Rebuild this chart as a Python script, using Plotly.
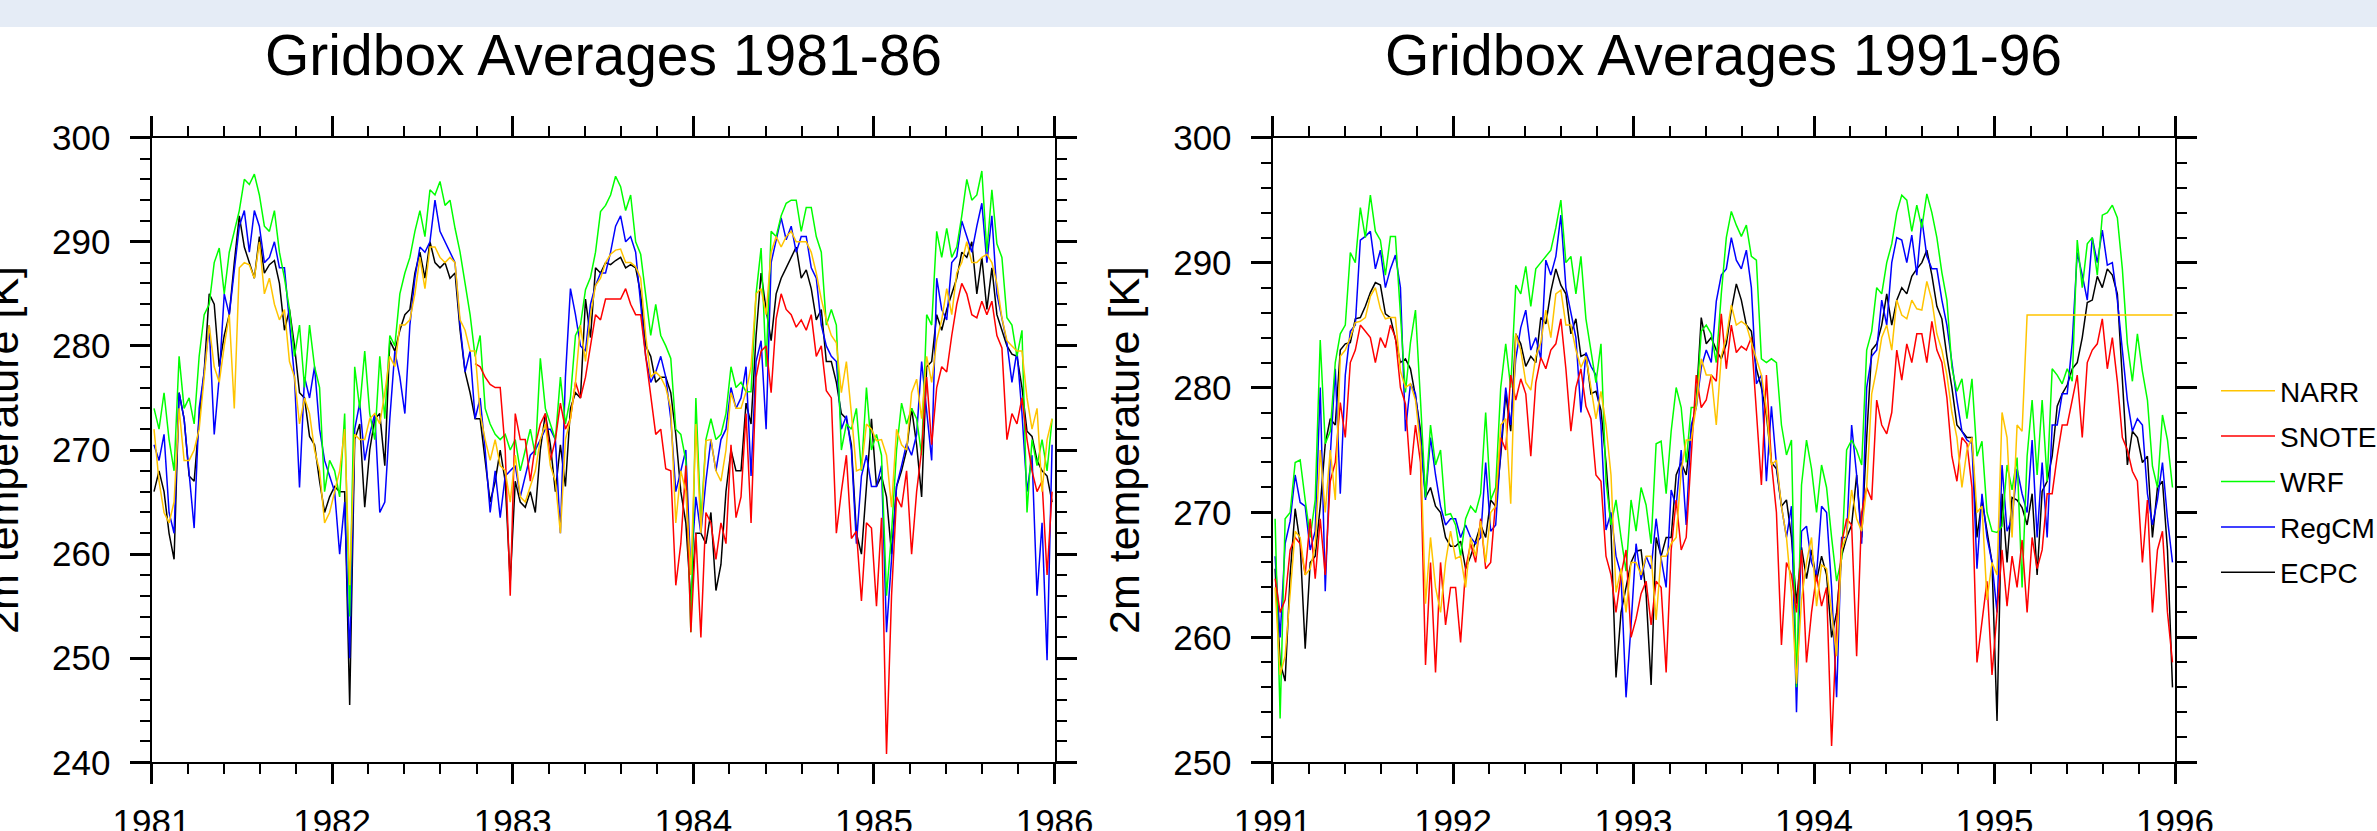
import plotly.graph_objects as go

FONT = "Liberation Sans, Arial, Helvetica, sans-serif"
W, H = 2377, 831

# ---------------- text ----------------
titles = ["Gridbox Averages 1981-86", "Gridbox Averages 1991-96"]
y_title = "2m temperature [K]"
series_order = ["ECPC", "RegCM", "WRF", "SNOTEL", "NARR"]   # drawing order, NARR on top
legend_rank = {"NARR": 1, "SNOTEL": 2, "WRF": 3, "RegCM": 4, "ECPC": 5}
series_colors = {"NARR": "#FFC400", "SNOTEL": "#FF0000", "WRF": "#00FF00",
                 "RegCM": "#0000FF", "ECPC": "#000000"}

# ---------------- data: 10-day values (36 per year), K ----------------
narr_8186 = [
    272, 267, 264, 263, 265, 274, 269, 269, 270, 272, 277, 282, 278, 276.5, 280, 283, 274, 287.5, 288, 287.8, 286.5, 290, 285, 286.5, 284, 282.5, 283.5, 278.5, 277, 272.5, 275, 273.5, 270, 268, 263, 264,
    266, 268, 272, 257, 271.5, 271, 271, 273, 273.5, 272.5, 275.5, 279, 278, 282, 282, 282.5, 285, 288.5, 285.5, 289.5, 289.5, 288.5, 288, 288.5, 288, 282.5, 281.5, 279.5, 279.5, 273.5, 271, 269, 271, 268.5, 268, 265,
    269.5, 265.5, 265, 266.5, 268, 271, 272.5, 268.5, 267, 262, 271, 273, 276.5, 282, 278.5, 283, 285.8, 286.5, 288, 288.8, 289.2, 289.3, 288, 288, 287.6, 286.5, 281, 277, 277.5, 277, 276, 274, 263, 268, 266, 258,
    272.5, 262, 270.9, 271, 268, 267, 270, 275.5, 274, 274, 275.6, 278, 285, 285.5, 283, 289, 290.5, 289.5, 290.5, 291, 290, 290, 290, 289, 287, 284.5, 282.5, 281, 280.3, 275.5, 278.5, 273.5, 268, 268.2, 272.5, 272,
    270.9, 271, 269.5, 264.5, 272, 270.5, 270, 275.5, 276.8, 273, 279, 276.5, 280.5, 282.5, 285.5, 283, 287, 288, 290, 288, 288, 288.5, 288.8, 288, 286, 282.7, 280.5, 280, 279.5, 279.5, 275, 272, 274, 266, 271, 273,
]
snotel_8186 = [
    None, None, None, None, None, None, None, None, None, None, None, None, None, None, None, None, None, None,
    None, None, None, None, None, None, None, None, None, None, None, None, None, None, None, None, None, None,
    None, None, None, None, None, None, None, None, None, None, None, None, None, None, None, None, None, None,
    None, None, None, None, None, None, None, None, None, None, 278.3, 278, 277, 276.3, 276, 276, 270, 256,
    273.5, 271, 271, 267, 270.5, 272.5, 273.5, 269, 271, 274.5, 272, 273, 276.5, 275, 277, 280, 283, 282.5, 284.5, 284.5, 284.5, 284.5, 285.5, 284, 283, 283, 279, 275, 271.5, 272, 268.2, 268, 257, 261, 268.5, 252.5,
    262, 252, 264, 263, 259.5, 263, 261, 270.5, 263.5, 265.5, 273.5, 263, 277, 279.5, 280, 275.5, 282.6, 285, 283.5, 283, 281.8, 282.5, 281.5, 283, 279, 280, 275.7, 275, 262, 266, 269.5, 261.5, 262.2, 255.5, 263, 262.5,
    255, 263.5, 240.8, 256, 265.5, 264.5, 268, 260, 266, 270, 277, 270.5, 276, 278, 277.5, 281, 284, 286, 285, 283, 282.7, 284.3, 283, 284.3, 281, 279.8, 271, 273.5, 272.5, 275, 271, 268, 266, 267, 258, 266,
]
wrf_8186 = [
    274, 272, 275.5, 271, 268, 279, 274, 275, 272.5, 279, 283, 284, 288, 289.4, 285, 289, 291, 293, 296, 295.5, 296.5, 294.5, 291.5, 291, 293, 289, 286.5, 283.5, 279, 282, 276, 282, 278, 276, 266, 269,
    268, 265.5, 273.5, 254, 278, 274, 279.5, 273.5, 271, 279, 273, 281, 280, 285, 287, 288.5, 291, 293, 290.5, 295, 294.5, 295.8, 293.5, 294, 291.3, 289, 286, 283, 279, 281, 274, 272.5, 271.5, 271, 271.5, 270,
    271, 268, 270, 272, 269.5, 278.8, 274, 272.5, 271, 277, 272.5, 275, 281, 282, 285.4, 286.6, 289, 292.9, 293.5, 294.5, 296.3, 295.3, 293, 294.5, 290, 288.8, 285, 281, 284, 281, 280, 278.8, 272, 271.5, 269, 252.5,
    275, 263, 271, 273, 271, 271.5, 273.5, 278, 276, 276.5, 275.6, 275.6, 285, 289.4, 278, 291, 290.5, 292.5, 293.7, 294, 294, 291, 293.3, 293.3, 290.5, 289, 282, 283.5, 282, 270, 272.5, 272, 274, 268, 276, 270,
    271.5, 269.5, 256, 262, 270, 274.5, 272.5, 274, 273, 269.5, 283, 282, 291, 288.5, 291.3, 288.5, 289.5, 292.5, 296, 294, 294.5, 296.8, 289, 295, 289.8, 288.5, 282.7, 282, 279, 281.5, 264, 271, 268.5, 271, 268, 273,
]
regcm_8186 = [
    270.5, 269, 271.5, 264, 262, 275.5, 273, 268, 262.5, 274, 277.5, 282, 271.5, 277, 285, 283, 287.5, 291.5, 293, 289, 293, 291.5, 288, 288.5, 290, 287.5, 287.5, 282, 277, 266.4, 277, 275, 278, 272, 269, 267.5,
    266, 260, 265, 250, 272, 274.5, 269, 271.5, 273.5, 264, 265, 273, 279.5, 277, 273.5, 282, 286.5, 289.5, 289, 290, 294, 291, 290, 289, 288, 282, 277.5, 279.5, 273, 275, 270, 264, 268, 263.5, 267.5, 268,
    268.5, 265.5, 267.5, 269.5, 270, 271, 272, 272, 271, 262, 277, 285.5, 283, 280, 279.5, 284, 285.8, 287, 287, 289, 291.5, 292.5, 290, 290.5, 289, 284, 279, 276.5, 277.5, 279, 277, 273, 266, 268, 270, 258,
    265.5, 262, 267, 271, 268, 271, 272, 276, 274, 275, 278, 267.5, 278.5, 280.5, 272, 288, 290, 292.3, 290.2, 291.5, 289, 290.5, 290.5, 287.5, 286.5, 282, 280, 279, 278.5, 272, 273.3, 270, 261, 267.5, 269.5, 266.5,
    266.5, 268.5, 252.5, 259.5, 266.5, 268.5, 270.6, 269.5, 271.5, 278.5, 274, 269, 286.5, 283.5, 282.5, 288, 288.6, 292, 290.5, 289, 291.5, 293.7, 288, 292.5, 285, 282.6, 280.3, 276.5, 279.5, 273.5, 266, 269.5, 256, 263, 249.8, 270.5,
]
ecpc_8186 = [
    266, 268, 266, 262, 259.5, 275.5, 273, 267.5, 267, 273, 277.5, 285, 284, 278, 281, 283, 288, 292.5, 289.5, 288, 286.5, 290.5, 287, 287.8, 288.2, 286, 281.5, 283.5, 280, 275.5, 275, 271.3, 270.5, 267, 264, 265.5,
    266.5, 266, 266, 245.5, 271, 272.5, 264.5, 270, 273, 273.5, 268.5, 280.5, 279.5, 281.5, 283, 283.5, 287, 289, 286.5, 290, 288, 287.5, 288, 286.5, 287, 281.5, 277.5, 275.5, 273, 273, 269, 265, 267, 270, 267, 257.3,
    267, 265, 264.5, 266, 264, 270, 273.5, 270.5, 266, 270.5, 266.5, 274, 275.5, 275, 284.5, 280.8, 287.5, 287, 288, 287.8, 288.2, 288.5, 287.5, 287.8, 287.5, 285, 280, 279, 276.5, 277, 277, 275.5, 271.5, 266, 263, 255.5,
    262, 262, 261, 264, 256.5, 259, 266, 270, 268, 268, 274.5, 272.5, 281, 287, 283.5, 280.5, 285, 286.5, 287.5, 288.5, 289.5, 286.5, 287.3, 285.5, 282.5, 283.5, 278.5, 278.5, 276.5, 273.5, 273, 270.5, 262, 260, 267, 273,
    266.5, 267.5, 265.5, 260, 266.5, 268, 270, 274, 270.5, 265.5, 278, 278.5, 283, 281.5, 283.5, 285, 286.5, 289, 288.5, 290, 285, 288.5, 283.5, 287.5, 283, 281.5, 280, 279.2, 279, 276, 271.8, 271.3, 269, 268, 267.5, 265,
]

narr_9196 = [
    264, 257, 258.5, 263.5, 268.5, 268, 265, 265.5, 267.3, 275, 270, 275, 271, 282.5, 283, 284, 285.2, 285.3, 285.6, 287.3, 288, 286.3, 285.5, 285.6, 285.6, 281.3, 280, 280.3, 279, 275.3, 262.7, 268, 264, 262, 266, 268.5,
    266.3, 266.5, 264, 268, 266.5, 269.3, 266, 270, 270.5, 277, 277.5, 270.7, 284.3, 283, 280.4, 279.8, 282.5, 283.6, 286.2, 284, 287.5, 287.8, 285, 285, 283, 281.6, 282.5, 280, 277.5, 279.7, 277, 273, 263.6, 265.5, 262, 266,
    266, 265, 266.5, 266.5, 261.4, 266.5, 266.5, 267.5, 268, 273.3, 275.8, 275.8, 278.5, 282.3, 281, 281, 277, 282.5, 284, 286.6, 285, 285.3, 285, 283.6, 282.3, 281, 278.3, 273.8, 274.2, 270.5, 268, 263.5, 256.3, 263, 266, 268,
    262.5, 265.8, 265.5, 262, 258.5, 267, 268.2, 271.8, 269.5, 268.5, 272, 279.5, 281.5, 284, 285, 283, 287, 285.8, 285.5, 287, 286.3, 286.2, 288.5, 287, 284.3, 283, 281, 278, 276, 272, 275, 276, 270, 270.5, 263, 266,
    265, 278, 276, 268, 277, 276.5, 285.8, 285.8, 285.8, 285.8, 285.8, 285.8, 285.8, 285.8, 285.8, 285.8, 285.8, 285.8, 285.8, 285.8, 285.8, 285.8, 285.8, 285.8, 285.8, 285.8, 285.8, 285.8, 285.8, 285.8, 285.8, 285.8, 285.8, 285.8, 285.8, 285.8,
]
snotel_9196 = [
    264.7, 262, 263, 267, 268, 267.5, 265, 269.5, 264.7, 269.5, 265, 272.5, 274, 278.8, 276, 282, 283, 285, 284.5, 284, 282, 284, 283.2, 285, 284, 280, 278.7, 273, 277, 274, 257.8, 266, 257.2, 266, 261, 264,
    264, 259.6, 265.5, 267.5, 266, 269.5, 265.5, 266, 271, 276, 275, 281, 279, 280.7, 279.5, 274.5, 280.4, 282.4, 281.5, 283, 283.5, 285.5, 281.5, 276.5, 280, 281.5, 278.5, 277.5, 273, 272.5, 266.5, 265, 262, 265, 267, 260,
    261.5, 263.5, 264.5, 261, 264.5, 264, 257.2, 267, 271, 267, 268, 275, 281, 278.4, 279, 281, 280.5, 285.9, 281.5, 285, 282.8, 283.3, 283, 284, 278, 272.2, 281, 274, 270, 259.4, 266, 265, 262, 267, 258, 262,
    265, 262.5, 264, 251.3, 261, 267.5, 269.5, 269, 258.5, 270, 272, 271, 279, 277, 276.3, 278, 283, 280.6, 283.5, 282, 284.3, 284.3, 282, 285.3, 283, 282, 279.2, 274.5, 272.5, 276, 275.5, 272, 258, 261.5, 264.5, 257,
    262, 267, 262.5, 266.5, 264, 267.8, 262, 268, 265.5, 267, 271.5, 271.5, 274.5, 277, 277, 279, 281, 276, 282, 283, 283.5, 285.5, 281.5, 284, 280.5, 276, 275, 273.3, 272.5, 266, 271, 262, 267, 268.5, 262, 258,
]
wrf_9196 = [
    269.5, 253.5, 269.5, 270, 274, 274.2, 271, 268, 271, 283.8, 275.5, 276.5, 282, 284.3, 285, 290.8, 290, 294.4, 292, 295.4, 292.5, 291.8, 289, 292.1, 292.1, 286, 279.6, 283.6, 286.2, 279, 271.2, 277, 273.8, 275, 269.8, 269.9,
    269, 266.5, 269.5, 270.5, 270, 271.5, 278, 271, 272, 280, 283.5, 280, 288.2, 287.5, 289.7, 286.5, 289.5, 290, 290.5, 291, 292.8, 295, 290, 290.5, 287.5, 290.5, 285.5, 283, 280.4, 283.5, 272.5, 269, 271, 268, 265.3, 271,
    268.5, 272, 270.6, 267.5, 275.5, 275.7, 271.5, 276.5, 280, 278.4, 274, 278.4, 278.4, 284.5, 285, 284.3, 282, 287.5, 292, 294.1, 293, 292.1, 293, 290.5, 290.2, 282.3, 282, 282.3, 282, 277, 274.6, 275.8, 256, 272.2, 275.8, 273.5,
    270, 273.8, 272, 268, 264.5, 266.3, 275, 275.8, 275, 273.8, 283, 284.5, 288, 287.5, 290, 291.5, 294, 295.4, 295, 292.5, 294.6, 292.8, 295.5, 294, 292, 289.2, 287, 281.6, 279.7, 280.7, 277.5, 280.7, 274.5, 275.7, 270, 268.5,
    268.4, 268.9, 273.8, 271.8, 274.4, 264, 274.5, 279, 273, 279, 272.5, 281.5, 281, 280.3, 281.5, 280.5, 291.8, 288, 291.5, 292, 289, 293.8, 294, 294.6, 293.6, 289.5, 283.5, 280.5, 284.3, 281.3, 279, 273.7, 272, 277.8, 275.8, 272,
]
regcm_9196 = [
    266.5, 260, 267.5, 269.3, 273, 270.8, 270.5, 267, 268.5, 280, 263.7, 274.5, 281.5, 271.5, 281, 284.5, 285, 291.8, 292.1, 292.5, 289.5, 291, 288, 289.5, 290.6, 288, 276.5, 280.3, 279.5, 276, 271, 276, 273, 270.5, 269, 269.5,
    269.5, 268, 269, 268, 267.5, 268, 274, 268.5, 269, 275, 280, 277, 282.3, 284.8, 286.2, 283, 284, 282.3, 290.2, 289, 290.5, 293.8, 288, 286, 284, 278, 282.8, 281.7, 281, 277, 268.6, 270, 266.5, 265, 255.2, 261,
    267.5, 264.6, 266.5, 265.5, 269.5, 266.3, 264, 271.8, 270.5, 275, 269, 277, 278.4, 281.6, 283, 282, 286.9, 289, 289.5, 292, 290.2, 289.5, 291, 288, 280.3, 281, 272.5, 278.5, 273.8, 270.5, 268, 270.5, 254, 268.5, 268.9, 266,
    265, 270.5, 270, 264, 255.2, 268, 268, 277, 273, 267.5, 280, 282.5, 283, 287, 285, 290, 292, 291.8, 290, 292.2, 289, 293.5, 290.5, 289.5, 289.5, 287, 285, 282, 279, 276.5, 275.8, 275.5, 265.5, 271.5, 268, 266,
    262, 273.8, 268.5, 269.5, 273.5, 271.5, 270, 275.8, 268, 274, 268, 277, 277, 279.5, 279.5, 283.6, 290.8, 289, 287, 292, 290, 292.6, 289.8, 290, 287, 283, 279, 276.5, 277.5, 277, 271.5, 269, 271, 274, 269.5, 266,
]
ecpc_9196 = [
    265.5, 258, 256.5, 265, 270.3, 267.5, 259.1, 266, 266.5, 270.5, 275.5, 277.5, 277, 283, 283.5, 283.6, 285.5, 285.6, 286.5, 287.6, 288.4, 288.2, 285.9, 285.6, 283.9, 282, 282.3, 281.5, 279.3, 276.6, 271.2, 272, 270.5, 270, 268, 267.3,
    267.3, 267.7, 265.5, 266.5, 267.7, 269, 268, 271, 270.5, 274.5, 279.5, 276.5, 284.3, 283.5, 281.7, 282.5, 282, 285.6, 285.1, 287.7, 289.5, 288.2, 287.5, 284.3, 285.5, 282.5, 282.7, 279.5, 279.7, 278.2, 274, 268.6, 256.8, 262, 264, 266,
    266.9, 267, 263.5, 256.2, 268, 266.5, 268, 268, 273, 274, 273, 276.5, 278.8, 285.6, 283.5, 284, 283, 282.3, 283.5, 286.2, 288.3, 287, 285, 284.5, 281.5, 280, 277.8, 274, 273.5, 270.5, 271, 268, 262.7, 267.2, 264.7, 267,
    264.5, 266.5, 265, 260, 262, 266.5, 268, 269, 273, 268, 276, 283, 283.5, 285, 287.5, 285, 287, 288, 287.5, 288.9, 289.5, 290, 291, 289, 286.5, 285.5, 282.5, 280, 277, 276.5, 276, 276, 268, 271, 268.5, 266,
    253.3, 271.5, 266, 271.2, 271, 270.4, 269, 271.5, 265, 271.7, 272.5, 274.5, 278.5, 279.5, 280.2, 281.5, 282, 284, 286.8, 287, 288.9, 288, 289.5, 289, 287.5, 281, 273.8, 276.5, 276, 274, 274.5, 268, 272, 272.5, 267, 256,
]

# time axis: 36 ten-day steps per year
t_8186 = [1981 + (i + 0.5) / 36 for i in range(len(narr_8186))]
t_9196 = [1991 + (i + 0.5) / 36 for i in range(len(narr_9196))]

panels = [
    (t_8186, {"NARR": narr_8186, "SNOTEL": snotel_8186, "WRF": wrf_8186, "RegCM": regcm_8186, "ECPC": ecpc_8186}),
    (t_9196, {"NARR": narr_9196, "SNOTEL": snotel_9196, "WRF": wrf_9196, "RegCM": regcm_9196, "ECPC": ecpc_9196}),
]
for _, d in panels:
    for k, v in d.items():
        assert len(v) == 180, (k, len(v))

fig = go.Figure()
for p, (t, d) in enumerate(panels):
    for name in series_order:
        fig.add_trace(go.Scatter(
            x=t, y=d[name], mode="lines", name=name, legendgroup=name,
            legendrank=legend_rank[name], showlegend=(p == 1),
            line=dict(color=series_colors[name], width=1.5),
            xaxis="x" if p == 0 else "x2", yaxis="y" if p == 0 else "y2",
        ))

tickfont = dict(family=FONT, size=35, color="black")
def xax(domain, start):
    return dict(domain=domain, range=[start, start + 5], tick0=start, dtick=1,
                showgrid=False, zeroline=False, showline=True, linecolor="black", linewidth=2,
                mirror="ticks", ticks="outside", ticklen=20, tickwidth=2.5, tickcolor="black",
                tickfont=tickfont, ticklabelstandoff=8,
                minor=dict(ticks="outside", ticklen=10, tickwidth=1.5, tickcolor="black",
                           dtick=0.2, tick0=start, showgrid=False))
def yax(rng, anchor):
    return dict(domain=[1 - 762.3 / H, 1 - 137.7 / H], range=rng, tick0=rng[0], dtick=10, anchor=anchor,
                showgrid=False, zeroline=False, showline=True, linecolor="black", linewidth=2,
                mirror="ticks", ticks="outside", ticklen=20, tickwidth=2.5, tickcolor="black",
                tickfont=tickfont, ticklabelstandoff=12,
                minor=dict(ticks="outside", ticklen=10, tickwidth=1.5, tickcolor="black",
                           dtick=2, tick0=rng[0], showgrid=False))

dom1 = [151.5 / W, 1054.6 / W]
dom2 = [1272.6 / W, 2175.0 / W]

title_font = dict(family=FONT, size=57, color="black")
ytitle_font = dict(family=FONT, size=43, color="black")
annotations = [
    dict(text=titles[0], xref="paper", yref="paper", x=(dom1[0] + dom1[1]) / 2, y=1 - 55 / H,
         xanchor="center", yanchor="middle", showarrow=False, font=title_font),
    dict(text=titles[1], xref="paper", yref="paper", x=(dom2[0] + dom2[1]) / 2, y=1 - 55 / H,
         xanchor="center", yanchor="middle", showarrow=False, font=title_font),
    dict(text=y_title, xref="paper", yref="paper", x=3 / W, y=1 - 450 / H, textangle=-90,
         xanchor="center", yanchor="middle", showarrow=False, font=ytitle_font),
    dict(text=y_title, xref="paper", yref="paper", x=1124 / W, y=1 - 450 / H, textangle=-90,
         xanchor="center", yanchor="middle", showarrow=False, font=ytitle_font),
]

fig.update_layout(
    width=W, height=H,
    margin=dict(l=0, r=0, t=0, b=0, autoexpand=False),
    paper_bgcolor="white", plot_bgcolor="white",
    font=dict(family=FONT, color="black"),
    xaxis=dict(xax(dom1, 1981), anchor="y"),
    yaxis=yax([240, 300], "x"),
    xaxis2=dict(xax(dom2, 1991), anchor="y2"),
    yaxis2=yax([250, 300], "x2"),
    legend=dict(x=2216 / W, y=1 - 366 / H, xanchor="left", yanchor="top",
                font=dict(family=FONT, size=28, color="black"),
                traceorder="grouped", tracegroupgap=6, itemwidth=54,
                bgcolor="rgba(0,0,0,0)", borderwidth=0),
    shapes=[dict(type="rect", xref="paper", yref="paper", x0=0, x1=1, y0=1 - 27 / H, y1=1,
                 fillcolor="#E5ECF6", line=dict(width=0), layer="below")],
    annotations=annotations,
)

fig.write_html(
    "out.html",
    config={"displayModeBar": False},
    post_script="document.body.style.margin='0';document.body.style.padding='0';"
                "document.body.style.overflow='hidden';",
)
